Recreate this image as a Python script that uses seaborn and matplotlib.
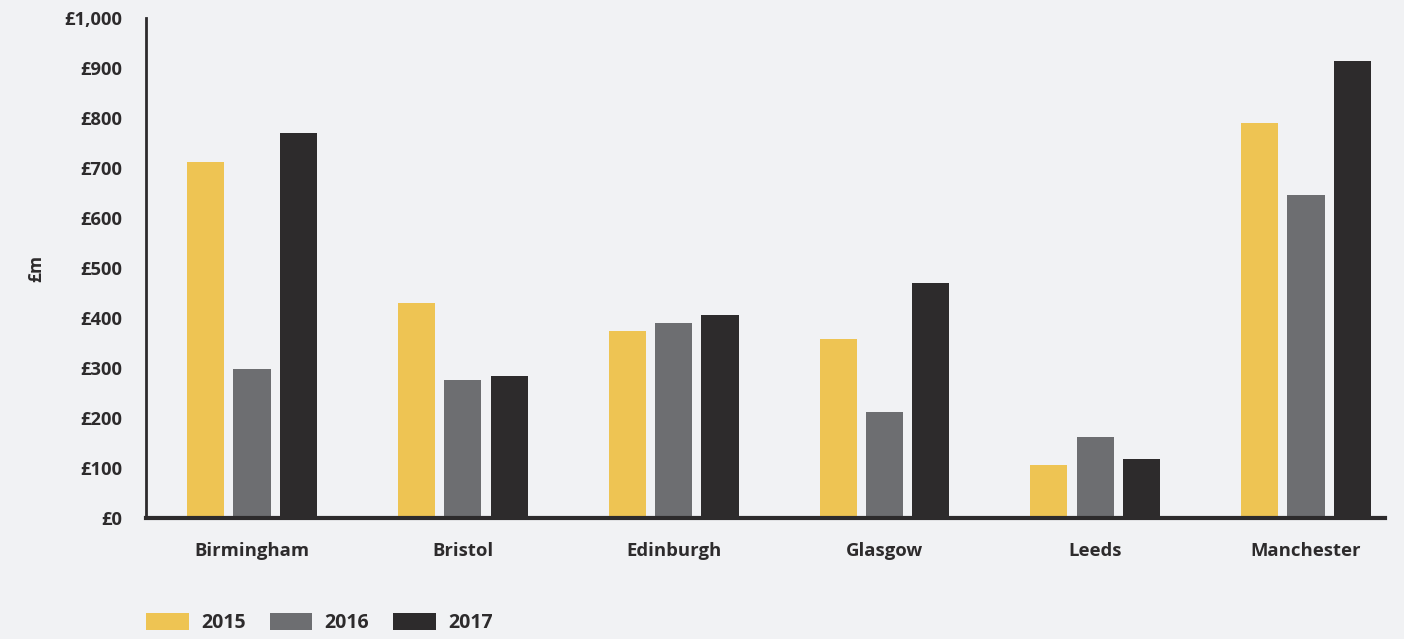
import numpy as np
import pandas as pd
import seaborn as sns
import matplotlib.pyplot as plt

cities = ["Birmingham", "Bristol", "Edinburgh", "Glasgow", "Leeds", "Manchester"]
years = ["2015", "2016", "2017"]
values_2015 = [713, 431, 375, 359, 106, 790]
values_2016 = [299, 277, 391, 212, 162, 647]
values_2017 = [770, 285, 407, 471, 118, 914]
y_ticks = [0, 100, 200, 300, 400, 500, 600, 700, 800, 900, 1000]

colors = {"2015": "#EEC453", "2016": "#6D6E71", "2017": "#2D2B2C"}
bg = "#F1F2F4"
ink = "#2D2B2C"

df = pd.DataFrame({
    "city": cities * 3,
    "year": [y for y in years for _ in cities],
    "value": values_2015 + values_2016 + values_2017,
})

sns.set_theme(style="white")
plt.rcParams["font.family"] = ["Open Sans", "DejaVu Sans"]

fig = plt.figure(figsize=(14.04, 6.39), dpi=100, facecolor=bg)
ax = fig.add_axes([146 / 1404, 1 - 518 / 639, 1239 / 1404, 500 / 639])
ax.set_facecolor(bg)

sns.barplot(data=df, x="city", y="value", hue="year", order=cities,
            hue_order=years, palette=colors, width=0.66, gap=0.2,
            saturation=1, linewidth=0, ax=ax, legend=True)

# group spacing in the original is ~211 px
step = 210.8
ax.set_xlim(-0.503, -0.503 + 1239 / step)
ax.set_ylim(0, 1000)
ax.set_yticks(y_ticks)
ax.set_yticklabels([f"£{v:,}" for v in y_ticks], fontsize=13.2,
                   fontweight="bold", color=ink)
ax.set_xticks(range(len(cities)))
ax.set_xticklabels(cities, fontsize=13.3, fontweight="bold", color=ink)
ax.tick_params(axis="x", length=0, pad=17)
ax.tick_params(axis="y", length=0, pad=17)
ax.set_xlabel("")
ax.set_ylabel("£m", fontsize=12.5, fontweight="bold", color=ink, labelpad=14)

for s in ["top", "right"]:
    ax.spines[s].set_visible(False)
ax.spines["left"].set_color(ink)
ax.spines["left"].set_linewidth(2)
ax.spines["bottom"].set_color(ink)
ax.spines["bottom"].set_linewidth(3)

handles, labels = ax.get_legend_handles_labels()
ax.legend(handles, labels, loc="upper left", bbox_to_anchor=(0, -0.19),
          ncol=3, frameon=False, fontsize=14, handlelength=2.2,
          handleheight=0.98, columnspacing=1.24, handletextpad=0.62,
          borderaxespad=0, borderpad=0)
for t in ax.get_legend().get_texts():
    t.set_fontweight("bold")
    t.set_color(ink)

fig.savefig("out.png", dpi=100, facecolor=bg)
